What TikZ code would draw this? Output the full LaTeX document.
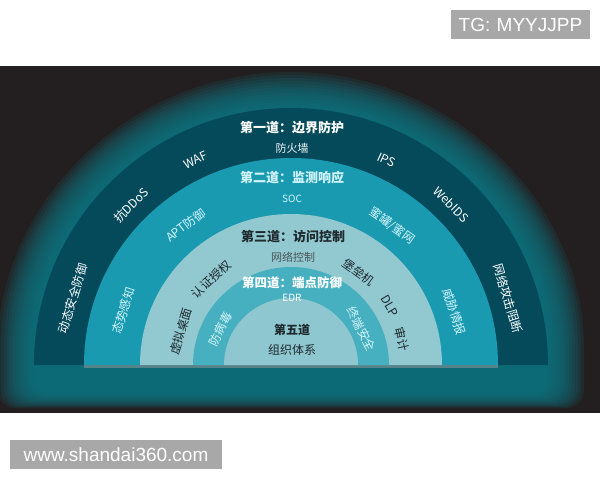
\documentclass[tikz,border=0pt]{standalone}
\usepackage{fontspec}
\setmainfont{Noto Sans CJK SC}
\newfontfamily\markfont{Liberation Sans}
\usetikzlibrary{calc}

\definecolor{bgdark}{HTML}{231F20}
\definecolor{glowteal}{HTML}{0C7D8C}
\definecolor{ringone}{HTML}{054A5B}
\definecolor{ringtwo}{HTML}{1A9AB1}
\definecolor{ringthree}{HTML}{92C8D0}
\definecolor{ringfour}{HTML}{47B0C0}
\definecolor{ringfive}{HTML}{8EC7CF}
\definecolor{darktext}{HTML}{1E2A2E}
\definecolor{cyantext}{HTML}{D2F5FB}
\definecolor{markgray}{HTML}{A8A8A8}

\begin{document}
\begin{tikzpicture}[x=1pt,y=1pt,every text node part/.style={align=center}]
  \tikzstyle{title}=[font=\bfseries\fontsize{13}{15}\selectfont, inner sep=0pt]
  \tikzstyle{subtitle}=[font=\fontsize{11}{13}\selectfont, inner sep=0pt]
  \tikzstyle{ringlabel}=[font=\fontsize{12}{14}\selectfont, inner sep=0pt]
  \tikzstyle{wmbox}=[fill=markgray, text=white, inner sep=0pt,
    font=\markfont\fontsize{19}{21}\selectfont]

  \useasboundingbox (0,0) rectangle (600,480);
  \fill[white] (0,0) rectangle (600,480);
  \fill[bgdark] (0,67) rectangle (600,414);
  \coordinate (c) at (291,115);

  % glow round the dome
  \begin{scope}
    \clip (0,67) rectangle (600,414);
    \foreach \o in {0,3,...,36}
      \fill[glowteal, opacity=0.13, rounded corners=18pt]
        ({291-257-\o},115) arc[start angle=180, end angle=0, radius={257+\o}]
        -- ({291+257+\o},{86-0.4*\o}) -- ({291-257-\o},{86-0.4*\o}) -- cycle;
  \end{scope}

  % the five rings
  \fill[ringone] ($(c)+(-257,0)$) arc[start angle=180, end angle=0, radius=257] -- cycle;
  \fill[ringtwo] ($(c)+(-207,0)$) arc[start angle=180, end angle=0, radius=207] -- cycle;
  \fill[ringthree] ($(c)+(-151,0)$) arc[start angle=180, end angle=0, radius=151] -- cycle;
  \fill[ringfour] ($(c)+(-98,0)$) arc[start angle=180, end angle=0, radius=98] -- cycle;
  \fill[ringfive] ($(c)+(-67,0)$) arc[start angle=180, end angle=0, radius=67] -- cycle;
  \fill[gray!70!ringthree, opacity=0.6] (84,112) rectangle (498,115);

  \node [title, text=white] (t1) at (292,352) {第一道：边界防护};
  \node [subtitle, text=white!85!ringthree] (s1) at (292,332) {防火墙};
  \node [title, text=cyantext] (t2) at (292,302) {第二道：监测响应};
  \node [subtitle, text=cyantext, font=\fontsize{10}{12}\selectfont] (s2) at (292,281) {SOC};
  \node [title, text=darktext] (t3) at (293,243) {第三道：访问控制};
  \node [subtitle, text=darktext!80] (s3) at (293,223) {网络控制};
  \node [title, text=white, font=\bfseries\fontsize{12.5}{14}\selectfont] (t4) at (292,197) {第四道：端点防御};
  \node [subtitle, text=white, font=\fontsize{10}{12}\selectfont] (s4) at (292,182) {EDR};
  \node [title, text=darktext, font=\bfseries\fontsize{12}{14}\selectfont] (t5) at (292,150) {第五道};
  \node [subtitle, text=darktext, font=\fontsize{12}{14}\selectfont] (s5) at (292,130) {组织体系};

  \node [ringlabel, text=white, rotate=73] (dyn) at ($(c)+(163:228)$) {动态安全防御};
  \node [ringlabel, text=white, rotate=45] (ddos) at ($(c)+(135:226)$) {抗DDoS};
  \node [ringlabel, text=white, rotate=25] (waf) at ($(c)+(115:226)$) {WAF};
  \node [ringlabel, text=white, rotate=-25] (ips) at ($(c)+(65:226)$) {IPS};
  \node [ringlabel, text=white, rotate=-45] (webids) at ($(c)+(45:227)$) {WebIDS};
  \node [ringlabel, text=white, rotate=-73] (block) at ($(c)+(17:227)$) {网络攻击阻断};

  \node [ringlabel, text=cyantext, rotate=72] (aware) at ($(c)+(162:176)$) {态势感知};
  \node [ringlabel, text=cyantext, rotate=37] (apt) at ($(c)+(127:175)$) {APT防御};
  \node [ringlabel, text=cyantext, rotate=-36] (honey) at ($(c)+(54:172)$) {蜜罐/蜜网};
  \node [ringlabel, text=cyantext, rotate=-72] (intel) at ($(c)+(18:172)$) {威胁情报};

  \node [ringlabel, text=darktext, rotate=73] (vdesk) at ($(c)+(163:115)$) {虚拟桌面};
  \node [ringlabel, text=darktext, rotate=43] (auth) at ($(c)+(133:117)$) {认证授权};
  \node [ringlabel, text=darktext, rotate=-36] (bastion) at ($(c)+(54:115)$) {堡垒机};
  \node [ringlabel, text=darktext, rotate=-59] (dlp) at ($(c)+(31:115)$) {DLP};
  \node [ringlabel, text=darktext, rotate=-77] (audit) at ($(c)+(13:114)$) {审计};

  \node [ringlabel, text=cyantext, rotate=63] (virus) at ($(c)+(153:79)$) {防病毒};
  \node [ringlabel, text=cyantext, rotate=-63] (endpoint) at ($(c)+(27:79)$) {终端安全};

  \node [wmbox, minimum width=139pt, minimum height=29pt, text width=131pt, align=left]
    (tg) at (520.5,455.5) {TG: MYYJJPP};
  \node [wmbox, minimum width=212pt, minimum height=29pt, text width=206pt, align=left]
    (site) at (116,25.5) {www.shandai360.com};
\end{tikzpicture}
\end{document}
